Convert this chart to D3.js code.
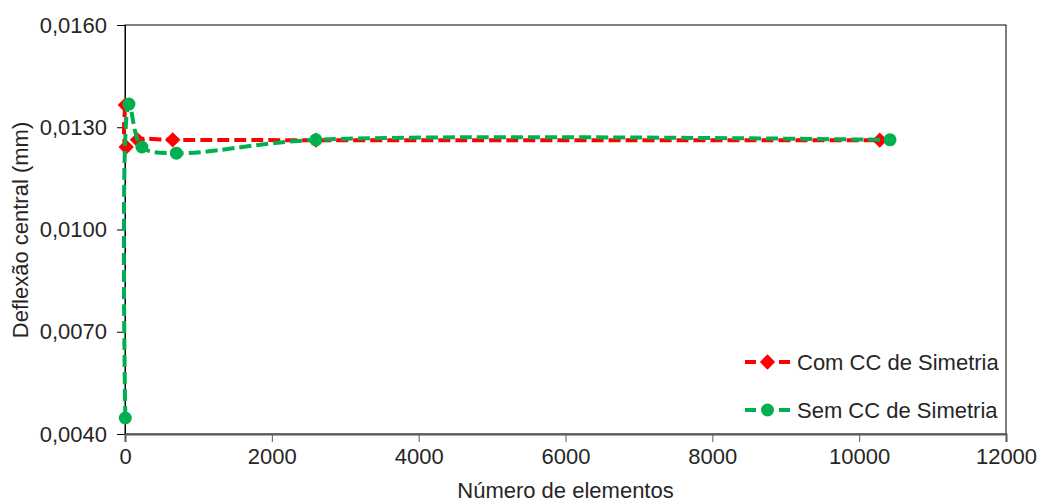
<!DOCTYPE html>
<html>
<head>
<meta charset="utf-8">
<script src="https://cdn.jsdelivr.net/npm/d3@7"></script>
<style>
  body { margin: 0; background: #fff; }
  text { font-family: "Liberation Sans", Arial, sans-serif; fill: #262626; }
</style>
</head>
<body>
<div id="chart"></div>
<script>
// Data
var comX = [4, 16, 170, 650, 2600, 10280];
var comY = [0.01365, 0.01242, 0.01263, 0.01263, 0.01262, 0.01262];
var semX = [4, 54, 230, 700, 2600, 10420];
var semY = [0.00447, 0.01368, 0.01242, 0.01224, 0.01263, 0.01263];
var xTicks = [0, 2000, 4000, 6000, 8000, 10000, 12000];
var yTicks = [0.004, 0.007, 0.010, 0.013, 0.016];
var seriesNames = ["Com CC de Simetria", "Sem CC de Simetria"];

var svgWidth = 1045;
var svgHeight = 502;
var margin = { top: 25, right: 39, bottom: 68, left: 125 };
var chartWidth = svgWidth - margin.left - margin.right;
var chartHeight = svgHeight - margin.top - margin.bottom;

var svg = d3.select("#chart")
    .append("svg")
    .attr("width", svgWidth)
    .attr("height", svgHeight);

var chartGroup = svg.append("g")
    .attr("transform", `translate(${margin.left}, ${margin.top})`);

var xScale = d3.scaleLinear().domain([0, 12000]).range([0, chartWidth]);
var yScale = d3.scaleLinear().domain([0.004, 0.016]).range([chartHeight, 0]);

// plot box
chartGroup.append("rect")
    .attr("width", chartWidth)
    .attr("height", chartHeight)
    .attr("fill", "none")
    .attr("stroke", "#000")
    .attr("stroke-width", 1);

// axes
var fmt = d => d3.format(".4f")(d).replace(".", ",");
var yAxis = chartGroup.append("g")
    .call(d3.axisLeft(yScale).tickValues(yTicks).tickFormat(fmt).tickSize(8).tickPadding(10));
yAxis.select(".domain").attr("stroke", "#000");
yAxis.selectAll("text").style("font-size", "22px");

var xAxis = chartGroup.append("g")
    .attr("transform", `translate(0, ${chartHeight})`)
    .call(d3.axisBottom(xScale).tickValues(xTicks).tickFormat(d3.format("d")).tickSize(8).tickPadding(6));
xAxis.select(".domain").attr("stroke", "#595959").attr("stroke-width", 2);
xAxis.selectAll("line").attr("stroke", "#595959");
xAxis.selectAll("text").style("font-size", "22px");

// axis titles
chartGroup.append("text")
    .attr("x", chartWidth / 2)
    .attr("y", chartHeight + 64)
    .attr("text-anchor", "middle")
    .style("font-size", "22px")
    .text("Número de elementos");

chartGroup.append("text")
    .attr("transform", "rotate(-90)")
    .attr("x", -205)
    .attr("y", -97)
    .attr("text-anchor", "middle")
    .style("font-size", "22px")
    .text("Deflexão central (mm)");

var line = d3.line()
    .x(d => xScale(d[0]))
    .y(d => yScale(d[1]))
    .curve(d3.curveCatmullRom.alpha(0.5));

var comData = comX.map((x, i) => [x, comY[i]]);
var semData = semX.map((x, i) => [x, semY[i]]);

var diamond = d3.symbol().type(d3.symbolDiamond2).size(150);

// red series
chartGroup.append("path")
    .datum(comData)
    .attr("d", line)
    .attr("fill", "none")
    .attr("stroke", "#ff0000")
    .attr("stroke-width", 4)
    .attr("stroke-dasharray", "12,5");

chartGroup.selectAll(".com")
    .data(comData)
    .enter()
    .append("path")
    .attr("class", "com")
    .attr("transform", d => `translate(${xScale(d[0])}, ${yScale(d[1])})`)
    .attr("d", diamond)
    .attr("fill", "#ff0000");

// green series
chartGroup.append("path")
    .datum(semData)
    .attr("d", line)
    .attr("fill", "none")
    .attr("stroke", "#00b050")
    .attr("stroke-width", 4)
    .attr("stroke-dasharray", "12,5");

chartGroup.selectAll(".sem")
    .data(semData)
    .enter()
    .append("circle")
    .attr("class", "sem")
    .attr("cx", d => xScale(d[0]))
    .attr("cy", d => yScale(d[1]))
    .attr("r", 6.5)
    .attr("fill", "#00b050");

// legend
var legendColors = ["#ff0000", "#00b050"];
var legend = chartGroup.selectAll(".legend")
    .data(seriesNames)
    .enter()
    .append("g")
    .attr("class", "legend")
    .attr("transform", (d, i) => `translate(620, ${337 + i * 48})`);

legend.append("line")
    .attr("x1", 0)
    .attr("x2", 45)
    .attr("stroke", (d, i) => legendColors[i])
    .attr("stroke-width", 4)
    .attr("stroke-dasharray", "11,6");

legend.append("path")
    .filter((d, i) => i === 0)
    .attr("transform", "translate(22.5, 0)")
    .attr("d", diamond)
    .attr("fill", legendColors[0]);

legend.filter((d, i) => i === 1)
    .append("circle")
    .attr("cx", 22.5)
    .attr("r", 6.5)
    .attr("fill", legendColors[1]);

legend.append("text")
    .attr("x", 52)
    .attr("dy", "0.35em")
    .style("font-size", "22px")
    .text(d => d);
</script>
</body>
</html>
